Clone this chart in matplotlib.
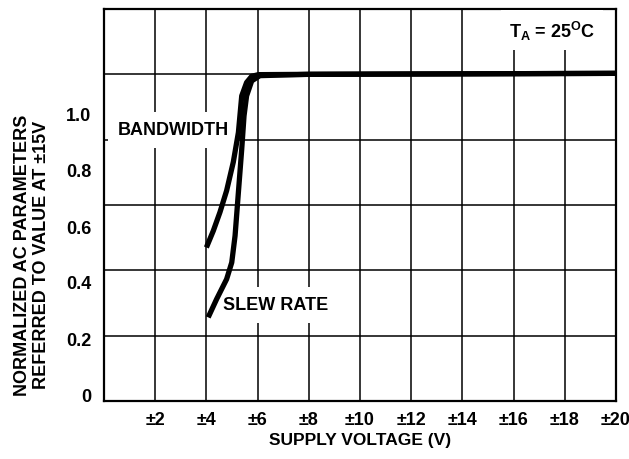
import matplotlib
matplotlib.use('Agg')
from matplotlib import pyplot as plt

# dados
volts_bw = [4.0, 4.27, 4.53, 4.79, 5.05, 5.25, 5.38, 5.57, 5.77, 6.03, 8.0, 20.0]
norm_bw = [0.47, 0.521, 0.578, 0.644, 0.731, 0.822, 0.934, 0.975, 0.994, 0.999, 1.0, 1.003]

volts_sr = [4.07, 4.40, 4.79, 4.99, 5.12, 5.25, 5.38, 5.47, 5.57, 5.77, 6.09, 8.0, 20.0]
norm_sr = [0.256, 0.312, 0.373, 0.424, 0.506, 0.639, 0.771, 0.873, 0.934, 0.980, 0.996, 1.0, 1.003]

xticks = [2, 4, 6, 8, 10, 12, 14, 16, 18, 20]
xtick_labels = ['\u00b1' + str(v) for v in xticks]
ygrid = [0.2, 0.4, 0.6, 0.8, 1.0]
# rotulos do eixo y ficam deslocados em relacao a grade no original
ytick_pos = [0.02, 0.19, 0.365, 0.535, 0.71, 0.88]
ytick_labels = ['0', '0.2', '0.4', '0.6', '0.8', '1.0']

plt.rcParams['font.family'] = ['Liberation Sans', 'DejaVu Sans']
plt.rcParams['font.weight'] = 'bold'
plt.rcParams['mathtext.fontset'] = 'custom'
plt.rcParams['mathtext.rm'] = 'Liberation Sans:bold'
plt.rcParams['mathtext.it'] = 'Liberation Sans:bold'
plt.rcParams['mathtext.bf'] = 'Liberation Sans:bold'

fig = plt.figure(figsize=(6.29, 4.60), dpi=100)
ax = fig.add_axes([104 / 629, 58 / 460, 512 / 629, 392 / 460])

ax.set_xlim(0, 20)
ax.set_ylim(0, 1.2)

ax.set_xticks(xticks)
ax.set_xticklabels(xtick_labels, fontsize=13, fontweight='bold')
ax.set_yticks(ytick_pos)
ax.set_yticklabels(ytick_labels, fontsize=13, fontweight='bold')
ax.set_yticks(ygrid, minor=True)
ax.tick_params(which='both', length=0)
ax.tick_params(axis='x', pad=7)
ax.tick_params(axis='y', pad=9)

ax.grid(which='major', axis='x', color='black', linewidth=1.1)
ax.grid(which='minor', axis='y', color='black', linewidth=1.1)

for s in ax.spines.values():
    s.set_linewidth(1.6)

# curvas por cima das caixas de texto
ax.plot(volts_bw, norm_bw, color='black', linewidth=3.8, solid_capstyle='butt', zorder=5)
ax.plot(volts_sr, norm_sr, color='black', linewidth=3.8, solid_capstyle='butt', zorder=5)

caixa = dict(facecolor='white', edgecolor='none', pad=6)
ax.text(2.7, 0.83, 'BANDWIDTH', fontsize=13, fontweight='bold', ha='center', va='center',
        bbox=dict(facecolor='white', edgecolor='none', pad=7), zorder=3)
ax.text(6.72, 0.294, 'SLEW RATE', fontsize=13, fontweight='bold', ha='center', va='center',
        bbox=dict(facecolor='white', edgecolor='none', pad=7), zorder=3)
ax.text(17.5, 1.135, r'T$_\mathrm{A}$ = 25$^\mathrm{O}$C', fontsize=13, fontweight='bold',
        ha='center', va='center', bbox=caixa, zorder=3)

fig.text(360 / 629, 1 - 441 / 460, 'SUPPLY VOLTAGE (V)', fontsize=12.5, fontweight='bold',
         ha='center', va='center')
fig.text(32 / 629, 1 - 255 / 460, 'NORMALIZED AC PARAMETERS\nREFERRED TO VALUE AT \u00b115V',
         fontsize=13, fontweight='bold', rotation=90, ha='center', va='center',
         multialignment='center', linespacing=1.15)

fig.savefig('out.png', dpi=100)
